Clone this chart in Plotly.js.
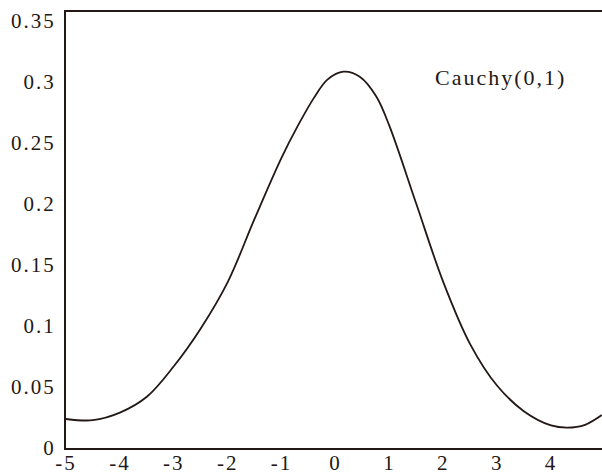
<!DOCTYPE html>
<html>
<head>
<meta charset="utf-8">
<script src="https://cdn.plot.ly/plotly-3.0.1.min.js"></script>
<style>
html, body { margin: 0; padding: 0; overflow: hidden; background: #fff; }
#chart { width: 606px; height: 475px; }
.main-svg text { letter-spacing: 2px; }
</style>
</head>
<body>
<div id="chart"></div>
<script>
// Curve points
var xs = [-5.0, -4.5, -4.0, -3.5, -3.0, -2.5, -2.0, -1.5, -1.0, -0.7, -0.4, -0.15, 0.15, 0.45, 0.76, 1.0, 1.5, 2.0, 2.5, 3.0, 3.5, 4.0, 4.3, 4.63, 4.94];
var ys = [0.0238, 0.0228, 0.0290, 0.0420, 0.0670, 0.0980, 0.1360, 0.1880, 0.2380, 0.2640, 0.2870, 0.3020, 0.3085, 0.3044, 0.2880, 0.2640, 0.2000, 0.1360, 0.0850, 0.0510, 0.0300, 0.0185, 0.0167, 0.0190, 0.0270];

var xTickVals = [-5, -4, -3, -2, -1, 0, 1, 2, 3, 4, 5];
var xTickText = ["-5", "-4", "-3", "-2", "-1", "0", "1", "2", "3", "4", "5"];
var yTickVals = [0, 0.05, 0.1, 0.15, 0.2, 0.25, 0.3, 0.35];
var yTickText = ["0", "0.05", "0.1", "0.15", "0.2", "0.25", "0.3", "0.35"];

var labelText = "Cauchy(0,1)";
var labelX = 3.06;
var labelY = 0.3035;

var ink = "#231815";
var serif = "Liberation Serif, Times New Roman, serif";

var trace = {
  x: xs,
  y: ys,
  type: "scatter",
  mode: "lines",
  line: { color: ink, width: 1.8, shape: "spline", smoothing: 1 },
  hoverinfo: "skip"
};

var layout = {
  width: 606,
  height: 475,
  margin: { l: 66, r: 1, t: 12, b: 27 },
  paper_bgcolor: "#ffffff",
  plot_bgcolor: "#ffffff",
  showlegend: false,
  font: { family: serif, size: 21, color: ink },
  xaxis: {
    range: [-5, 5],
    tickmode: "array",
    tickvals: xTickVals,
    ticktext: xTickText,
    ticks: "",
    showgrid: false,
    zeroline: false,
    showline: true,
    linecolor: ink,
    linewidth: 2,
    mirror: true,
    ticklabelstandoff: -5,
    tickfont: { family: serif, size: 21, color: ink },
    fixedrange: true
  },
  yaxis: {
    range: [0, 0.3574],
    tickmode: "array",
    tickvals: yTickVals,
    ticktext: yTickText,
    ticks: "",
    showgrid: false,
    zeroline: false,
    showline: true,
    linecolor: ink,
    linewidth: 2,
    mirror: true,
    ticklabelstandoff: 4,
    tickfont: { family: serif, size: 21, color: ink },
    fixedrange: true
  },
  annotations: [{
    x: labelX, y: labelY, xref: "x", yref: "y",
    text: labelText, showarrow: false,
    font: { family: serif, size: 22, color: ink },
    xanchor: "center", yanchor: "middle"
  }]
};

Plotly.newPlot("chart", [trace], layout, { displayModeBar: false, staticPlot: true });
</script>
</body>
</html>
